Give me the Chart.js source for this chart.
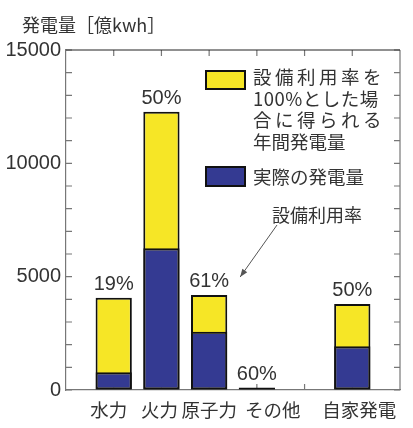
<!DOCTYPE html>
<html>
<head>
<meta charset="utf-8">
<script src="https://cdn.jsdelivr.net/npm/chart.js@4"></script>
<style>
  html, body { margin: 0; padding: 0; background: #fff; }
  canvas { display: block; }
</style>
</head>
<body>
<canvas id="chart" width="413" height="428"></canvas>
<script>
// empty slots at both ends and between その他 and 自家発電
const categories = ["", "水力", "火力", "原子力", "その他", "", "自家発電", ""];
const actualOutput = [null, 780, 6250, 2570, 66, null, 1930, null];     // 実際の発電量
const fullOutput = [null, 4070, 12280, 4190, 110, null, 3790, null];    // 設備利用率100%の場合
const usageRates = ["", "19%", "50%", "61%", "60%", "", "50%", ""];
const yTicks = [0, 5000, 10000, 15000];

const legendLines = ["設備利用率を", "100%とした場", "合に得られる", "年間発電量"];

const YELLOW = "#f6e626";
const BLUE = "#343a92";
const TEXT = "#333";
const CJK = "'Noto Sans CJK JP', sans-serif";
const NUM = "'Liberation Sans', Arial, sans-serif";

const ctx = document.getElementById("chart").getContext("2d");

// inward ticks and the top/right frame
const framePlugin = {
  id: "frame",
  beforeDatasetsDraw(chart) {
    const { ctx, chartArea: a, scales: { x, y } } = chart;
    ctx.save();
    ctx.strokeStyle = "#777";
    ctx.lineWidth = 1.2;
    ctx.beginPath();
    ctx.moveTo(a.right, a.top);
    ctx.lineTo(a.right, a.bottom);
    y.ticks.forEach((t) => {
      const py = y.getPixelForValue(t.value);
      ctx.moveTo(a.left, py);
      ctx.lineTo(a.left + 6, py);
      ctx.moveTo(a.right, py);
      ctx.lineTo(a.right - 6, py);
    });
    for (let i = 1; i < categories.length - 1; i++) {
      const px = x.getPixelForValue(i);
      ctx.moveTo(px, a.top);
      ctx.lineTo(px, a.top + 6);
      ctx.moveTo(px, a.bottom);
      ctx.lineTo(px, a.bottom - 6);
    }
    ctx.stroke();
    ctx.strokeStyle = "#222";
    ctx.lineWidth = 1;
    ctx.beginPath();
    ctx.moveTo(a.left, a.top);
    ctx.lineTo(a.right, a.top);
    ctx.stroke();
    ctx.restore();
  },
};

const labelPlugin = {
  id: "labels",
  afterDatasetsDraw(chart) {
    const { ctx, chartArea: a, scales: { x } } = chart;
    const bars = chart.getDatasetMeta(1).data;
    ctx.save();
    ctx.fillStyle = TEXT;

    // 設備利用率 above each bar
    ctx.font = "20px " + NUM;
    ctx.textAlign = "center";
    ctx.textBaseline = "alphabetic";
    usageRates.forEach((r, i) => {
      if (!r) return;
      ctx.fillText(r, bars[i].x, bars[i].y - 8);
    });

    // category names, nudged apart like the original so they don't collide
    const nudge = [0, -5, -2, 0, 16, 0, 7, 0];
    ctx.font = "18.5px " + CJK;
    ctx.textBaseline = "middle";
    categories.forEach((c, i) => {
      if (!c) return;
      ctx.fillText(c, x.getPixelForValue(i) + nudge[i], a.bottom + 20);
    });

    // axis title
    ctx.font = "18px " + CJK;
    ctx.textAlign = "left";
    ctx.fillText("発電量［億kwh］", 22, 25);

    // legend
    ctx.lineWidth = 2;
    ctx.strokeStyle = "#111";
    ctx.fillStyle = YELLOW;
    ctx.fillRect(206, 71, 39, 18);
    ctx.strokeRect(206, 71, 39, 18);
    ctx.fillStyle = BLUE;
    ctx.fillRect(206, 167, 39, 19);
    ctx.strokeRect(206, 167, 39, 19);

    ctx.fillStyle = TEXT;
    ctx.font = "18.5px " + CJK;
    const spacing = ["3.5px", "0.5px", "3.5px", "0px"];
    legendLines.forEach((line, i) => {
      ctx.letterSpacing = spacing[i];
      ctx.fillText(line, 253, 77 + i * 21.5);
    });
    ctx.letterSpacing = "0px";
    ctx.fillText("実際の発電量", 253, 177);

    // note with arrow pointing at the 原子力 rate
    ctx.font = "18px " + CJK;
    ctx.fillText("設備利用率", 272, 215);
    const ex = bars[3].x + 31, ey = bars[3].y - 18;
    const sx = 277, sy = 225;
    ctx.strokeStyle = "#555";
    ctx.fillStyle = "#555";
    ctx.lineWidth = 1;
    ctx.beginPath();
    ctx.moveTo(sx, sy);
    ctx.lineTo(ex, ey);
    ctx.stroke();
    const ang = Math.atan2(ey - sy, ex - sx);
    ctx.beginPath();
    ctx.moveTo(ex, ey);
    ctx.lineTo(ex - 8 * Math.cos(ang) + 3 * Math.sin(ang), ey - 8 * Math.sin(ang) - 3 * Math.cos(ang));
    ctx.lineTo(ex - 8 * Math.cos(ang) - 3 * Math.sin(ang), ey - 8 * Math.sin(ang) + 3 * Math.cos(ang));
    ctx.closePath();
    ctx.fill();
    ctx.restore();
  },
};

new Chart(ctx, {
  type: "bar",
  data: {
    labels: categories,
    datasets: [
      {
        label: "実際の発電量",
        data: actualOutput,
        backgroundColor: BLUE,
        borderColor: "#111",
        borderWidth: 2,
        borderSkipped: false,
      },
      {
        label: "設備利用率を100%とした場合に得られる年間発電量",
        data: fullOutput,
        backgroundColor: YELLOW,
        borderColor: "#111",
        borderWidth: 2,
        borderSkipped: false,
      },
    ],
  },
  options: {
    responsive: false,
    animation: false,
    categoryPercentage: 1,
    barPercentage: 0.76,
    layout: { padding: { top: 50, right: 13, left: 0, bottom: 0 } },
    plugins: {
      legend: { display: false },
      tooltip: { enabled: false },
    },
    scales: {
      x: {
        stacked: true,
        offset: false,
        grid: { drawOnChartArea: false, drawTicks: false },
        border: { display: true, color: "#777", width: 1.2 },
        ticks: { display: false },
        afterFit: (s) => { s.height = 38; },
      },
      y: {
        stacked: false,
        min: 0,
        max: 15000,
        grid: { drawOnChartArea: false, drawTicks: false },
        border: { display: true, color: "#777", width: 1.2 },
        ticks: {
          stepSize: 1000,
          autoSkip: false,
          padding: 5,
          color: TEXT,
          font: { family: NUM, size: 20 },
          callback: (v) => (yTicks.includes(v) ? v : ""),
        },
        afterFit: (s) => { s.width = 66; },
      },
    },
  },
  plugins: [framePlugin, labelPlugin],
});
</script>
</body>
</html>
